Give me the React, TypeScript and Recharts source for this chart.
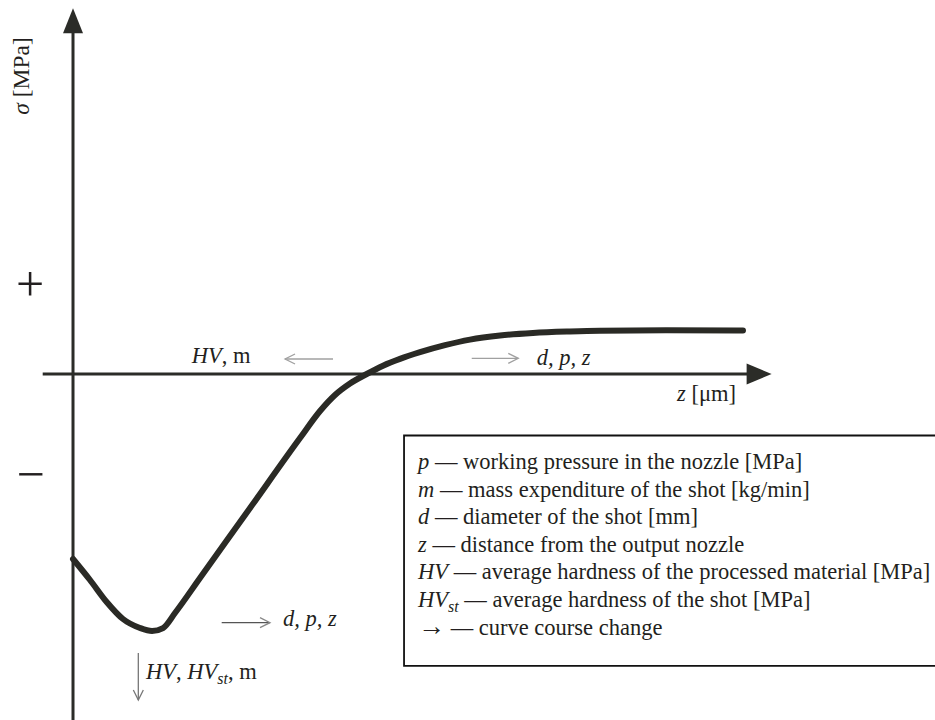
import React from "react";
import { LineChart, Line, XAxis, YAxis, ReferenceLine, ReferenceDot, ReferenceArea } from "recharts";

// ---- data (schematic residual stress curve) ----
const zValues = [0, 2.43, 4.81, 7.14, 9.57, 11.29, 12.86, 14.57, 18.14, 25.29, 32.43, 35.29, 37.43, 39.57, 41.96, 44.29, 46.71, 49.57, 53.14, 56.71, 61.0, 65.71, 71.0, 75.29, 84.86, 95.71];
const sigmaValues = [-51.39, -57.22, -63.33, -68.06, -70.56, -71.39, -70.56, -66.39, -56.67, -37.22, -17.78, -10.28, -5.83, -2.64, 0, 2.3, 4.2, 6.05, 8.0, 9.55, 10.69, 11.39, 11.81, 12.03, 12.17, 12.1];

const legendSymbols = ["p", "m", "d", "z", "HV", "HV", "→"];
const legendSubs = ["", "", "", "", "", "st", ""];
const legendItalic = [true, true, true, true, true, true, false];
const legendTexts = [
  "working pressure in the nozzle [MPa]",
  "mass expenditure of the shot [kg/min]",
  "diameter of the shot [mm]",
  "distance from the output nozzle",
  "average hardness of the processed material [MPa]",
  "average hardness of the shot [MPa]",
  "curve course change",
];

const chartData = zValues.map((z, i) => ({ z, sigma: sigmaValues[i] }));

// ---- layout ----
const W = 935;
const H = 720;
const X_DOMAIN: [number, number] = [-10.43, 123.14];
const Y_DOMAIN: [number, number] = [-96.11, 103.89];
const FONT = "'Liberation Serif', 'Times New Roman', serif";
const FS = 22.5;
const INK = "#231f20";
const AXIS = "#2b2c28";

const LEGEND_X = 49.29;
const LEGEND_Y0 = -26.39;
const LEGEND_DY = -7.667;

type P = { cx?: number; cy?: number };

const textShape = (content: React.ReactNode, extra: any = {}) => (p: P) => (
  <text x={p.cx} y={p.cy} fontFamily={FONT} fontSize={FS} fill={INK} {...extra}>
    {content}
  </text>
);

const triRight = (p: P) => (
  <path d={`M${p.cx},${p.cy} L${(p.cx as number) - 25},${(p.cy as number) - 10.5} L${(p.cx as number) - 25},${(p.cy as number) + 10.5} Z`} fill={AXIS} />
);
const triUp = (p: P) => (
  <path d={`M${p.cx},${p.cy} L${(p.cx as number) - 10},${(p.cy as number) + 25} L${(p.cx as number) + 10},${(p.cy as number) + 25} Z`} fill={AXIS} />
);
const chevron = (dir: "left" | "right" | "down", color: string) => (p: P) => {
  const x = p.cx as number;
  const y = p.cy as number;
  let d = "";
  if (dir === "left") d = `M${x + 10},${y - 5} L${x},${y} L${x + 10},${y + 5}`;
  if (dir === "right") d = `M${x - 10},${y - 5} L${x},${y} L${x - 10},${y + 5}`;
  if (dir === "down") d = `M${x - 5},${y - 10} L${x},${y} L${x + 5},${y - 10}`;
  return <path d={d} fill="none" stroke={color} strokeWidth={1.3} />;
};

const I = ({ children }: { children: React.ReactNode }) => <tspan fontStyle="italic">{children}</tspan>;

export default function App() {
  return (
    <div style={{ position: "absolute", left: 0, top: 0, width: W, height: H, background: "#fff" }}>
      <LineChart width={W} height={H} data={chartData} margin={{ top: 0, right: 0, bottom: 0, left: 0 }}>
        <XAxis dataKey="z" type="number" domain={X_DOMAIN} allowDataOverflow hide />
        <YAxis type="number" domain={Y_DOMAIN} allowDataOverflow hide />

        {/* axes */}
        <ReferenceLine segment={[{ x: -4.33, y: 0 }, { x: 97, y: 0 }]} stroke={AXIS} strokeWidth={3} ifOverflow="visible" />
        <ReferenceLine segment={[{ x: 0, y: -96.11 }, { x: 0, y: 95 }]} stroke={AXIS} strokeWidth={3} ifOverflow="visible" />
        <ReferenceDot x={99.8} y={0} shape={triRight} ifOverflow="visible" />
        <ReferenceDot x={0} y={101.6} shape={triUp} ifOverflow="visible" />

        {/* legend box */}
        <ReferenceArea x1={47.29} x2={126} y1={-81.1} y2={-17.08} fill="none" stroke="#111" strokeWidth={1.8} ifOverflow="visible" />

        {/* curve */}
        <Line dataKey="sigma" type="monotone" stroke="#2a2a25" strokeWidth={6} strokeLinecap="round" strokeLinejoin="round" dot={false} activeDot={false} isAnimationActive={false} />

        {/* course-change arrows */}
        <ReferenceLine segment={[{ x: 30.29, y: 4.17 }, { x: 37.14, y: 4.17 }]} stroke="#a0a0a0" strokeWidth={1.3} ifOverflow="visible" />
        <ReferenceDot x={30.29} y={4.17} shape={chevron("left", "#a0a0a0")} ifOverflow="visible" />
        <ReferenceLine segment={[{ x: 56.96, y: 4.36 }, { x: 63.61, y: 4.36 }]} stroke="#a0a0a0" strokeWidth={1.3} ifOverflow="visible" />
        <ReferenceDot x={63.61} y={4.36} shape={chevron("right", "#a0a0a0")} ifOverflow="visible" />
        <ReferenceLine segment={[{ x: 21.24, y: -69.08 }, { x: 28.14, y: -69.08 }]} stroke="#555" strokeWidth={1.3} ifOverflow="visible" />
        <ReferenceDot x={28.14} y={-69.08} shape={chevron("right", "#888")} ifOverflow="visible" />
        <ReferenceLine segment={[{ x: 9.33, y: -77.5 }, { x: 9.33, y: -90.56 }]} stroke="#777" strokeWidth={1.3} ifOverflow="visible" />
        <ReferenceDot x={9.33} y={-90.56} shape={chevron("down", "#777")} ifOverflow="visible" />

        {/* labels */}
        <ReferenceDot x={-6.3} y={82.8} ifOverflow="visible"
          shape={(p: P) => (
            <text x={p.cx} y={p.cy} transform={`rotate(-90 ${p.cx} ${p.cy})`} textAnchor="middle" fontFamily={FONT} fontSize={23.5} fill={INK}>
              <I>σ</I> [MPa]
            </text>
          )} />
        <ReferenceDot x={-6.14} y={20.28} ifOverflow="visible" shape={textShape("+", { textAnchor: "middle", fontSize: 50 })} />
        <ReferenceDot x={-6.07} y={-32.5} ifOverflow="visible" shape={textShape("−", { textAnchor: "middle", fontSize: 50 })} />
        <ReferenceDot x={16.96} y={3.06} ifOverflow="visible" shape={textShape(<><I>HV</I>, m</>)} />
        <ReferenceDot x={66.24} y={2.5} ifOverflow="visible" shape={textShape(<I>d, p, z</I>)} />
        <ReferenceDot x={86.29} y={-7.5} ifOverflow="visible" shape={textShape(<><I>z</I> [μm]</>)} />
        <ReferenceDot x={30.0} y={-70.0} ifOverflow="visible" shape={textShape(<I>d, p, z</I>)} />
        <ReferenceDot x={10.43} y={-84.72} ifOverflow="visible"
          shape={textShape(<><I>HV</I>, <I>HV</I><tspan fontStyle="italic" fontSize={16} dy={5}>st</tspan><tspan dy={-5}>, m</tspan></>)} />

        {/* legend entries */}
        {legendTexts.map((t, i) => (
          <ReferenceDot key={i} x={LEGEND_X} y={LEGEND_Y0 + i * LEGEND_DY} ifOverflow="visible"
            shape={textShape(
              <>
                <tspan fontStyle={legendItalic[i] ? "italic" : "normal"} fontSize={legendItalic[i] ? FS : 27}>{legendSymbols[i]}</tspan>
                {legendSubs[i] ? (
                  <>
                    <tspan fontStyle="italic" fontSize={16} dy={5}>{legendSubs[i]}</tspan>
                    <tspan dy={-5}> — {t}</tspan>
                  </>
                ) : (
                  <tspan> — {t}</tspan>
                )}
              </>
            )} />
        ))}
      </LineChart>
    </div>
  );
}
